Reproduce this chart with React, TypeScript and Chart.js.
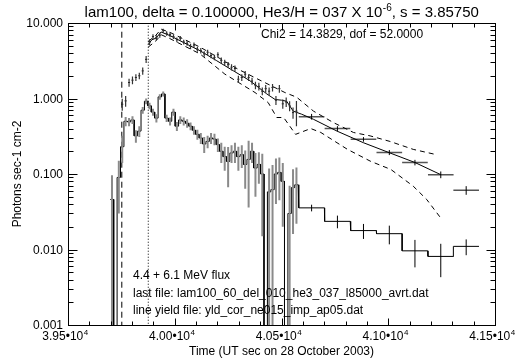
import React, { useEffect, useRef } from "react";
import { Chart, registerables } from "chart.js";
Chart.register(...registerables);

const FONT = '"Liberation Sans", Arial, Helvetica, sans-serif';

// ---- data ----
const narrowTimes = [39706, 39722, 39738, 39754, 39770, 39786, 39802, 39818, 39834, 39850, 39866, 39882, 39898, 39914, 39930, 39946, 39962, 39978, 39994, 40010, 40026, 40042, 40058, 40074, 40090, 40106, 40122, 40138, 40154, 40170, 40186, 40202, 40218, 40234, 40250, 40266, 40282, 40298, 40314, 40330, 40346, 40362, 40378, 40394, 40410, 40426, 40442, 40458, 40474, 40490, 40506, 40522, 40538, 40554, 40570];
const narrowHalfWidth = 8;

const lowerNarrow = [0.046, 0, 0.09, 0.23, 0.5, 0.49, 0.52, 0.32, 0.37, 0.7, 0.92, 0.8, 0.66, 0.55, 1.05, 1.15, 0.55, 0.5, 0.66, 0.43, 0.52, 0.5, 0.47, 0.43, 0.38, 0.335, 0.3, 0.25, 0.27, 0.3, 0.29, 0.245, 0.2, 0.17, 0.147, 0.19, 0.2, 0.17, 0.18, 0.134, 0.156, 0.2, 0.12, 0.134, 0.1, 0, 0.058, 0.062, 0.1, 0.105, 0.08, 0, 0.03, 0.066, 0.072];
const lowerNarrowErr = [0.05, 0, 0.06, 0.09, 0.07, 0.06, 0.06, 0.06, 0.06, 0.07, 0.08, 0.08, 0.07, 0.07, 0.09, 0.09, 0.06, 0.06, 0.07, 0.06, 0.06, 0.06, 0.06, 0.05, 0.05, 0.05, 0.05, 0.06, 0.05, 0.05, 0.05, 0.05, 0.06, 0.06, 0.08, 0.05, 0.06, 0.06, 0.06, 0.07, 0.12, 0.06, 0.07, 0.06, 0.085, 0, 0.06, 0.07, 0.06, 0.06, 0.06, 0, 0.04, 0.05, 0.05];

const upperNarrow = [null, null, null, 0.84, 0.93, 1.63, 1.75, 1.9, 2.0, 2.32, 3.3, 5.6, 6.6, 6.4, 6.9, 7.9, 7.3, 7.0, 6.6, 6.0, 6.3, 5.6, 5.4, 4.9, 5.1, 4.5, 4.3, 3.9, 4.1, 3.7, 3.5, 3.8, 3.2, 3.0, 2.8, 2.6, 2.5, 1.8, 1.9, 2.1, 1.9, 1.7, 1.5, 1.45, 1.25, 1.35, 1.25, 1.4, 0.95, 1.35, 0.85, 0.9, 0.8, 0.65, 0.68];
const upperNarrowErr = [null, null, null, 0.15, 0.15, 0.2, 0.2, 0.2, 0.2, 0.25, 0.35, 0.5, 0.5, 0.5, 0.5, 0.5, 0.5, 0.5, 0.45, 0.45, 0.45, 0.4, 0.4, 0.4, 0.4, 0.35, 0.35, 0.33, 0.33, 0.3, 0.3, 0.3, 0.28, 0.27, 0.25, 0.25, 0.24, 0.2, 0.2, 0.22, 0.2, 0.18, 0.17, 0.17, 0.15, 0.16, 0.15, 0.16, 0.13, 0.16, 0.12, 0.13, 0.12, 0.11, 0.25];

const wideTimes = [40641, 40762, 40884, 41005, 41125, 41246, 41365];
const wideHalfWidth = 60;
const lowerWide = [0.0356, 0.0236, 0.0178, 0.0162, 0.0096, 0.0081, 0.011];
const lowerWideErr = [0.0036, 0.0045, 0.004, 0.0045, 0.0038, 0.0038, 0.0026];
const upperWide = [0.575, 0.4, 0.288, 0.193, 0.142, 0.098, 0.061];
const upperWideErr = [0.05, 0.03, 0.02, 0.015, 0.012, 0.01, 0.008];

const modelTimes = [39876, 39893, 39912, 39936, 39978, 40071, 40118, 40197, 40274, 40352, 40431, 40470, 40500, 40524, 40555, 40594, 40650, 40760, 40883, 41008, 41125, 41246];
const modelValues = [5.2, 6.0, 6.3, 7.6, 6.8, 5.0, 4.3, 3.16, 2.33, 1.72, 1.15, 0.97, 0.95, 0.92, 0.68, 0.62, 0.53, 0.37, 0.26, 0.19, 0.142, 0.098];
const modelHiTimes = [39876, 39912, 39936, 39978, 40118, 40203, 40296, 40390, 40516, 40571, 40650, 40743, 40837, 40915, 41008, 41117, 41227];
const modelHiValues = [5.7, 6.9, 8.3, 7.5, 4.8, 3.5, 2.45, 1.8, 1.2, 1.04, 0.68, 0.48, 0.355, 0.32, 0.27, 0.212, 0.18];
const modelLoTimes = [39876, 39912, 39936, 39978, 40118, 40235, 40376, 40438, 40478, 40510, 40534, 40566, 40637, 40684, 40809, 40918, 41012, 41117, 41180, 41242];
const modelLoValues = [4.8, 5.8, 7.0, 6.2, 3.9, 2.1, 1.2, 0.88, 0.56, 0.56, 0.45, 0.335, 0.4, 0.355, 0.212, 0.147, 0.115, 0.069, 0.046, 0.027];

const dashedLineTime = 39752;
const dottedLineTime = 39876;

const xMin = 39500, xMax = 41500, xMinorStep = 100;
const yMin = 0.001, yMax = 10;
const xMajor = [39500, 40000, 40500, 41000, 41500];
const xLabelBase = ["3.95\u202210", "4.00\u202210", "4.05\u202210", "4.10\u202210", "4.15\u202210"];
const xLabelExp = "4";
const yMajor = [0.001, 0.01, 0.1, 1, 10];
const yLabels = ["0.001", "0.010", "0.100", "1.000", "10.000"];

const titleParts = ["lam100, delta = 0.100000, He3/H = 037 X 10", "-6", ", s = 3.85750"];
const chiText = "Chi2 = 14.3829, dof = 52.0000";
const notes = [
  "4.4 + 6.1 MeV flux",
  "last file: lam100_60_del_010_he3_037_l85000_avrt.dat",
  "line yield file: yld_cor_ne015_imp_ap05.dat",
];
const xTitle = "Time (UT sec on 28 October 2003)";
const yTitle = "Photons sec-1 cm-2";

// ---- helpers building library tables ----
const FLOOR = 1e-5;
const pos = (v: number) => (v > 0 ? v : FLOOR);

function stepTable(times: number[][], vals: number[][], halves: number[]) {
  const out: any[] = [];
  times.forEach((ts, j) => {
    ts.forEach((t, i) => {
      const v = pos(vals[j][i]);
      out.push({ x: t - halves[j], y: v });
      out.push({ x: t + halves[j], y: v });
    });
  });
  return out;
}
function vErrTable(ts: number[], vs: (number | null)[], es: (number | null)[]) {
  const out: any[] = [];
  ts.forEach((t, i) => {
    const v = vs[i], e = es[i];
    if (v == null || e == null || e === 0) return;
    out.push({ x: t, y: pos(v - e) });
    out.push({ x: t, y: v + e });
    out.push({ x: t, y: null });
  });
  return out;
}
function hBarTable(ts: number[], vs: (number | null)[], half: number) {
  const out: any[] = [];
  ts.forEach((t, i) => {
    const v = vs[i];
    if (v == null) return;
    out.push({ x: t - half, y: v });
    out.push({ x: t + half, y: v });
    out.push({ x: t, y: null });
  });
  return out;
}
const lineTable = (ts: number[], vs: number[]) => ts.map((t, i) => ({ x: t, y: vs[i] }));

const axesPlugin = {
  id: "idlAxes",
  afterDatasetsDraw(chart: any) {
    const { ctx, chartArea: a, scales } = chart;
    const xs = scales.x, ys = scales.y;
    const L = Math.round(a.left) + 0.5, R = Math.round(a.right) + 0.5;
    const T = Math.round(a.top) + 0.5, B = Math.round(a.bottom) + 0.5;
    ctx.save();
    ctx.strokeStyle = "#000";
    ctx.lineWidth = 1;
    ctx.setLineDash([]);
    ctx.strokeRect(L, T, R - L, B - T);
    const seg = (x1: number, y1: number, x2: number, y2: number) => {
      ctx.beginPath(); ctx.moveTo(x1, y1); ctx.lineTo(x2, y2); ctx.stroke();
    };
    for (let t = xMin; t <= xMax + 0.1; t += xMinorStep) {
      const px = Math.round(xs.getPixelForValue(t)) + 0.5;
      const major = xMajor.includes(t);
      const len = major ? 7 : 4;
      seg(px, B, px, B - len);
      seg(px, T, px, T + len);
    }
    for (let d = 0; d < yMajor.length; d++) {
      const base = yMajor[d];
      for (let m = 1; m <= 9; m++) {
        const v = base * m;
        if (v > yMax * 1.0001) break;
        const py = Math.round(ys.getPixelForValue(v)) + 0.5;
        const len = m === 1 ? 9 : 5;
        seg(L, py, L + len, py);
        seg(R, py, R - len, py);
      }
    }
    ctx.fillStyle = "#000";
    ctx.font = `12px ${FONT}`;
    ctx.textAlign = "right";
    ctx.textBaseline = "middle";
    yMajor.forEach((v, i) => {
      ctx.fillText(yLabels[i], a.left - 5, ys.getPixelForValue(v) + 1);
    });
    ctx.textAlign = "left";
    ctx.textBaseline = "alphabetic";
    xMajor.forEach((t, i) => {
      ctx.font = `12px ${FONT}`;
      const wb = ctx.measureText(xLabelBase[i]).width;
      ctx.font = `8px ${FONT}`;
      const we = ctx.measureText(xLabelExp).width;
      const px = xs.getPixelForValue(t);
      const x0 = px - (wb + we) / 2 - 3;
      ctx.font = `12px ${FONT}`;
      ctx.fillText(xLabelBase[i], x0, a.bottom + 15);
      ctx.font = `8px ${FONT}`;
      ctx.fillText(xLabelExp, x0 + wb + 0.5, a.bottom + 10);
    });
    ctx.font = `12px ${FONT}`;
    ctx.textAlign = "center";
    ctx.fillText(xTitle, (a.left + a.right) / 2, a.bottom + 30);
    ctx.save();
    ctx.translate(21, (a.top + a.bottom) / 2);
    ctx.rotate(-Math.PI / 2);
    ctx.textAlign = "center";
    ctx.textBaseline = "alphabetic";
    ctx.fillText(yTitle, 0, 0);
    ctx.restore();
    ctx.textAlign = "left";
    ctx.font = `15px ${FONT}`;
    const w0 = ctx.measureText(titleParts[0]).width;
    const w2 = ctx.measureText(titleParts[2]).width;
    ctx.font = `10px ${FONT}`;
    const w1 = ctx.measureText(titleParts[1]).width;
    const tx = (a.left + a.right) / 2 - (w0 + w1 + w2) / 2;
    ctx.font = `15px ${FONT}`;
    ctx.fillText(titleParts[0], tx, 17);
    ctx.font = `10px ${FONT}`;
    ctx.fillText(titleParts[1], tx + w0 + 0.5, 11);
    ctx.font = `15px ${FONT}`;
    ctx.fillText(titleParts[2], tx + w0 + w1 + 0.5, 17);
    ctx.font = `12px ${FONT}`;
    ctx.fillText(chiText, 261, 38);
    notes.forEach((s, i) => ctx.fillText(s, 133, 279 + i * 17.5));
    ctx.restore();
  },
};

export default function App() {
  const ref = useRef<HTMLCanvasElement | null>(null);
  useEffect(() => {
    if (!ref.current) return;
    const common = { showLine: true, pointRadius: 0, fill: false, spanGaps: false, tension: 0 };
    const vline = (t: number) => [{ x: t, y: yMin * 0.5 }, { x: t, y: yMax * 2 }];
    const chart = new Chart(ref.current, {
      type: "scatter",
      data: {
        datasets: [
          { ...common, data: vErrTable(narrowTimes, upperNarrow, upperNarrowErr), borderColor: "#333", borderWidth: 1.2 },
          { ...common, data: hBarTable(narrowTimes, upperNarrow, narrowHalfWidth * 0.6), borderColor: "#000", borderWidth: 1 },
          { ...common, data: vErrTable(wideTimes, upperWide, upperWideErr), borderColor: "#000", borderWidth: 1 },
          { ...common, data: lineTable(modelTimes, modelValues), borderColor: "#000", borderWidth: 1 },
          { ...common, data: lineTable(modelHiTimes, modelHiValues), borderColor: "#000", borderWidth: 1, borderDash: [5, 4] },
          { ...common, data: lineTable(modelLoTimes, modelLoValues), borderColor: "#000", borderWidth: 1, borderDash: [5, 4] },
          { ...common, data: hBarTable(wideTimes, upperWide, wideHalfWidth), borderColor: "#555", borderWidth: 1.5 },
          { ...common, data: vErrTable(wideTimes, lowerWide, lowerWideErr), borderColor: "#000", borderWidth: 1 },
          { ...common, data: vErrTable(narrowTimes, lowerNarrow, lowerNarrowErr), borderColor: "#8a8a8a", borderWidth: 2 },
          { ...common, data: stepTable([narrowTimes, wideTimes], [lowerNarrow, lowerWide], [narrowHalfWidth, wideHalfWidth]), borderColor: "#000", borderWidth: 1 },
          { ...common, data: vline(dashedLineTime), borderColor: "#000", borderWidth: 1, borderDash: [6, 4] },
          { ...common, data: vline(dottedLineTime), borderColor: "#000", borderWidth: 1, borderDash: [1, 2] },
        ],
      },
      options: {
        animation: false,
        responsive: false,
        events: [],
        layout: { padding: { left: 68, right: 23, top: 23, bottom: 35 } },
        plugins: { legend: { display: false }, tooltip: { enabled: false }, title: { display: false } },
        scales: {
          x: { type: "linear", min: xMin, max: xMax, display: false },
          y: { type: "logarithmic", min: yMin, max: yMax, display: false },
        },
      } as any,
      plugins: [axesPlugin as any],
    });
    return () => chart.destroy();
  }, []);
  return (
    <div style={{ position: "absolute", left: 0, top: 0, width: 518, height: 360, background: "#fff" }}>
      <canvas ref={ref} width={518} height={360} style={{ display: "block" }} />
    </div>
  );
}
